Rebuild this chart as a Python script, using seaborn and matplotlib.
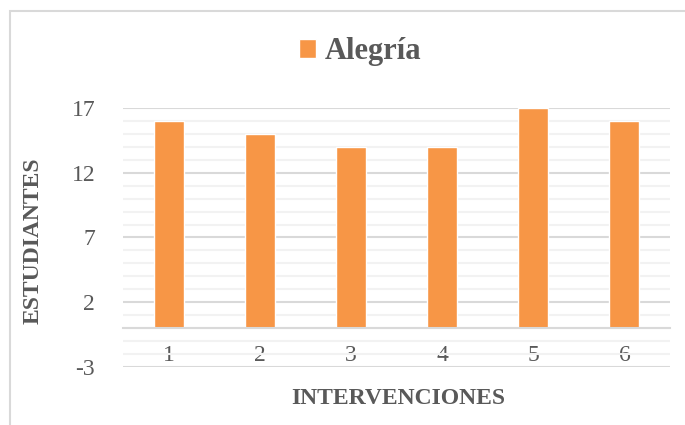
import matplotlib
matplotlib.use("Agg")
import seaborn as sns
import matplotlib.pyplot as plt
import pandas as pd
from matplotlib.patches import Rectangle

intervenciones = ["1", "2", "3", "4", "5", "6"]
estudiantes = [16, 15, 14, 14, 17, 16]
serie = "Alegría"

df = pd.DataFrame({"Intervencion": intervenciones, "Estudiantes": estudiantes, "Serie": serie})

sns.set_style("white")
plt.rcParams["font.family"] = ["Liberation Serif", "DejaVu Serif"]
plt.rcParams["axes.unicode_minus"] = False

gray = "#595959"
orange = "#F79646"
serif = ["Liberation Serif", "DejaVu Serif"]

fig = plt.figure(figsize=(6.85, 4.25), dpi=100)
ax = fig.add_axes([0.1796, 0.1365, 0.7985, 0.6094])

sns.barplot(data=df, x="Intervencion", y="Estudiantes", hue="Serie",
            palette=[orange], width=0.33, ax=ax, legend=True, saturation=1)

ax.set_ylim(-3, 17)
ax.set_xlim(-0.5, 5.5)
ax.set_yticks([-3, 2, 7, 12, 17])
ax.set_yticks(range(-3, 18), minor=True)
ax.grid(which="major", axis="y", color="#D9D9D9", lw=1.5)
ax.grid(which="minor", axis="y", color="#F2F2F2", lw=1.5)
ax.set_axisbelow(True)
ax.tick_params(which="both", length=0)
ax.tick_params(axis="y", labelsize=17, labelcolor=gray, pad=20)
ax.tick_params(axis="x", labelsize=17, labelcolor=gray, pad=12)
for lab in ax.get_xticklabels() + ax.get_yticklabels():
    lab.set_family(serif)

for s in ["top", "right", "left"]:
    ax.spines[s].set_visible(False)
ax.spines["bottom"].set_position(("data", 0))
ax.spines["bottom"].set_color("#D9D9D9")
ax.spines["bottom"].set_linewidth(1.5)

ax.set_xlabel("")
ax.set_ylabel("")
fig.text(0.581, 0.063, "INTERVENCIONES", ha="center", va="center",
         fontsize=17, fontweight="bold", color=gray, family=serif)
fig.text(0.048, 0.433, "ESTUDIANTES", ha="center", va="center", rotation=90,
         fontsize=17, fontweight="bold", color=gray, family=serif)

leg = ax.legend(loc="center", bbox_to_anchor=(0.526, 0.878), bbox_transform=fig.transFigure,
                frameon=False, handlelength=0.55, handleheight=0.55,
                handletextpad=0.3, fontsize=22)
for t in leg.get_texts():
    t.set_color(gray)
    t.set_fontfamily(serif)
    t.set_fontweight("bold")
    t.set_fontsize(22)

fig.patches.append(Rectangle((10 / 685, -0.1), 1.1, 1 - 11 / 425 + 0.1,
                             transform=fig.transFigure, fill=False,
                             edgecolor="#D9D9D9", lw=1.5))

fig.savefig("out.png", dpi=100)
